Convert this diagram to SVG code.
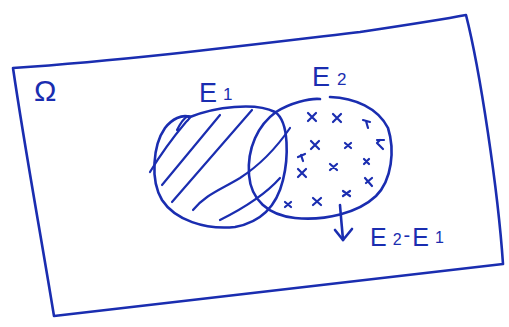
<svg xmlns="http://www.w3.org/2000/svg" width="509" height="327" viewBox="0 0 509 327">
<style>
.ink{fill:none;stroke:#1a2db0;stroke-width:2.6;stroke-linecap:round;stroke-linejoin:round}
.thin{fill:none;stroke:#1a2db0;stroke-width:2.2;stroke-linecap:round}
.lbl{font-family:"Liberation Sans",Arial,sans-serif;fill:#1a2db0}
</style>
<rect width="509" height="327" fill="#ffffff"/>
<g id="universe">
<path class="ink" d="M13,68 C130,60 250,45 360,32 C400,26 440,20 466,15 C480,70 498,190 503,264 C380,278 220,298 54,316 C40,230 25,150 13,68"/>
<text class="lbl" x="34" y="101" font-size="30">Ω</text>
</g>
<g id="E1">
<path class="ink" d="M190,117 C215,107 255,102 275,112 C290,122 288,160 283,180 C277,205 262,222 235,227 C205,230 175,220 162,200 C150,180 153,145 165,128 C172,119 182,114 190,117"/>
<path class="thin" d="M150,172 C162,152 175,135 186,122 C190,118 192,116 188,116 C184,118 180,124 177,130"/>
<path class="thin" d="M162,185 L220,115"/>
<path class="thin" d="M172,202 L252,110"/>
<path class="thin" d="M193,210 C205,195 220,190 240,178 C260,165 275,150 290,128"/>
<path class="thin" d="M220,220 C240,210 265,195 280,178"/>
<text class="lbl" x="199" y="102" font-size="27">E<tspan font-size="17" dx="6" dy="-2">1</tspan></text>
</g>
<g id="E2">
<path class="ink" d="M320,99 C310,98 290,103 276,112 C258,125 247,148 249,175 C251,200 268,215 295,218 C325,221 358,213 376,196 C392,180 395,150 388,128 C378,108 355,98 330,97"/>
<g class="thin">
<path d="M308,113 l8,8 M316,113 l-8,8"/>
<path d="M333,114 l8,8 M341,114 l-8,8"/>
<path d="M363,120 l7,2 M366,121 l2,7"/>
<path d="M311,141 l8,8 M319,141 l-8,8"/>
<path d="M345,143 l6,5 M351,143 l-6,5"/>
<path d="M377,140 l7,0 M377,143 l6,6 M380,140 l-3,3"/>
<path d="M298,157 l7,-3 M301,155 l2,6"/>
<path d="M298,169 l8,8 M306,169 l-8,8"/>
<path d="M330,164 l7,6 M337,164 l-7,6"/>
<path d="M364,159 l5,5 M369,159 l-5,5"/>
<path d="M365,178 l7,8 M372,178 l-6,5"/>
<path d="M285,202 l6,5 M291,202 l-6,5"/>
<path d="M313,198 l8,7 M321,198 l-8,7"/>
<path d="M343,191 l7,5 M350,191 l-7,5"/>
</g>
<text class="lbl" x="312" y="86" font-size="27">E<tspan font-size="17" dx="7" dy="-1">2</tspan></text>
</g>
<g id="connectors">
<path class="ink" d="M340,205 C341,218 342,228 343,240"/>
<path class="ink" d="M335,230 L343,240 L352,229"/>
</g>
<g id="diff-label">
<text class="lbl" x="370" y="246" font-size="25">E<tspan font-size="16" dx="6" dy="-1">2</tspan><tspan font-size="20" dx="2" dy="-3">-</tspan><tspan font-size="25" dx="2" dy="4">E</tspan><tspan font-size="16" dx="6" dy="-3">1</tspan></text>
</g>
</svg>
